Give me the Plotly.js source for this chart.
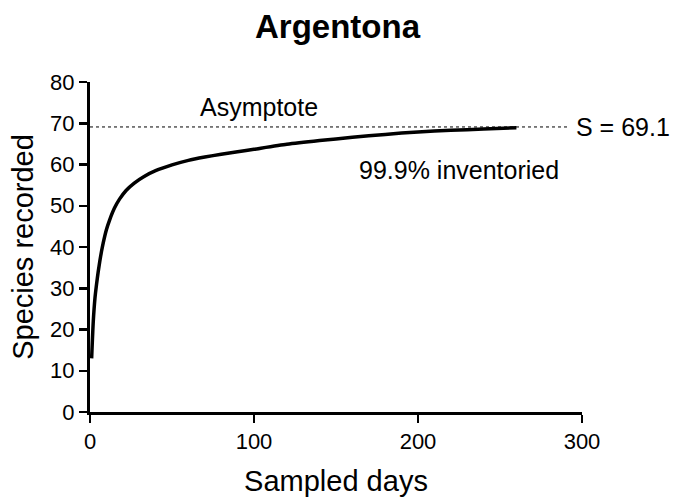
<!DOCTYPE html>
<html>
<head>
<meta charset="utf-8">
<script src="https://cdn.plot.ly/plotly-3.0.1.min.js"></script>
<style>
  html, body { margin: 0; padding: 0; background: #fff; }
  #chart { width: 675px; height: 498px; }
</style>
</head>
<body>
<div id="chart"></div>
<script>
// Species accumulation curve for Argentona
const sampledDays = [1, 2, 3, 4, 5, 6, 7, 8, 10, 12, 15, 18, 22, 27, 33, 40, 50, 60, 70, 80, 90, 100, 120, 140, 160, 180, 200, 220, 240, 260];
const speciesRecorded = [13, 22, 27.5, 31, 34, 36.6, 38.9, 40.9, 44.2, 46.6, 49.5, 51.6, 53.7, 55.5, 57.1, 58.5, 59.9, 61.0, 61.8, 62.5, 63.1, 63.7, 64.9, 65.8, 66.6, 67.3, 67.9, 68.3, 68.6, 68.9];

// Asymptote of the fitted curve
const asymptoteValue = 69.1;
const asymptoteSpan = [0, 291];
const inventoriedPct = 99.9;

const fontFamily = '"Liberation Sans", Arial, Helvetica, sans-serif';

const traces = [
  {
    x: asymptoteSpan,
    y: asymptoteSpan.map(() => asymptoteValue),
    mode: 'lines',
    line: { color: '#000', width: 1, dash: '3px,3px' },
    hoverinfo: 'skip',
    showlegend: false
  },
  {
    x: sampledDays,
    y: speciesRecorded,
    mode: 'lines',
    line: { color: '#000', width: 3.5, shape: 'spline', smoothing: 0.6 },
    showlegend: false
  }
];

const layout = {
  width: 675,
  height: 498,
  margin: { l: 90, r: 93, t: 82, b: 86 },
  paper_bgcolor: '#fff',
  plot_bgcolor: '#fff',
  font: { family: fontFamily, color: '#000' },
  title: {
    text: '<b>Argentona</b>',
    font: { family: fontFamily, size: 33, color: '#000' },
    x: 0.5,
    xanchor: 'center',
    yref: 'container',
    y: 1 - 26 / 498,
    yanchor: 'middle'
  },
  xaxis: {
    range: [0, 300],
    tickvals: [0, 100, 200, 300],
    showgrid: false,
    zeroline: false,
    showline: true,
    linecolor: '#000',
    linewidth: 3,
    ticks: 'outside',
    ticklen: 8,
    tickwidth: 2.5,
    tickcolor: '#000',
    tickfont: { family: fontFamily, size: 22, color: '#000' },
    title: {
      text: 'Sampled days',
      font: { family: fontFamily, size: 29, color: '#000' },
      standoff: 18
    }
  },
  yaxis: {
    range: [0, 80],
    tickvals: [0, 10, 20, 30, 40, 50, 60, 70, 80],
    showgrid: false,
    zeroline: false,
    showline: true,
    linecolor: '#000',
    linewidth: 3,
    ticks: 'outside',
    ticklen: 8,
    tickwidth: 2.5,
    tickcolor: '#000',
    tickfont: { family: fontFamily, size: 22, color: '#000' },
    title: {
      text: 'Species recorded',
      font: { family: fontFamily, size: 29, color: '#000' },
      standoff: 8
    }
  },
  annotations: [
    {
      x: 103, y: 74, xref: 'x', yref: 'y',
      text: 'Asymptote',
      showarrow: false,
      font: { family: fontFamily, size: 25, color: '#000' },
      xanchor: 'center', yanchor: 'middle'
    },
    {
      x: 295, y: asymptoteValue, xref: 'x', yref: 'y',
      text: 'S = ' + asymptoteValue.toFixed(1),
      showarrow: false,
      font: { family: fontFamily, size: 25, color: '#000' },
      xanchor: 'left', yanchor: 'middle'
    },
    {
      x: 225, y: 58.7, xref: 'x', yref: 'y',
      text: inventoriedPct.toFixed(1) + '% inventoried',
      showarrow: false,
      font: { family: fontFamily, size: 25, color: '#000' },
      xanchor: 'center', yanchor: 'middle'
    }
  ]
};

Plotly.newPlot('chart', traces, layout, { displayModeBar: false, staticPlot: true });
</script>
</body>
</html>
